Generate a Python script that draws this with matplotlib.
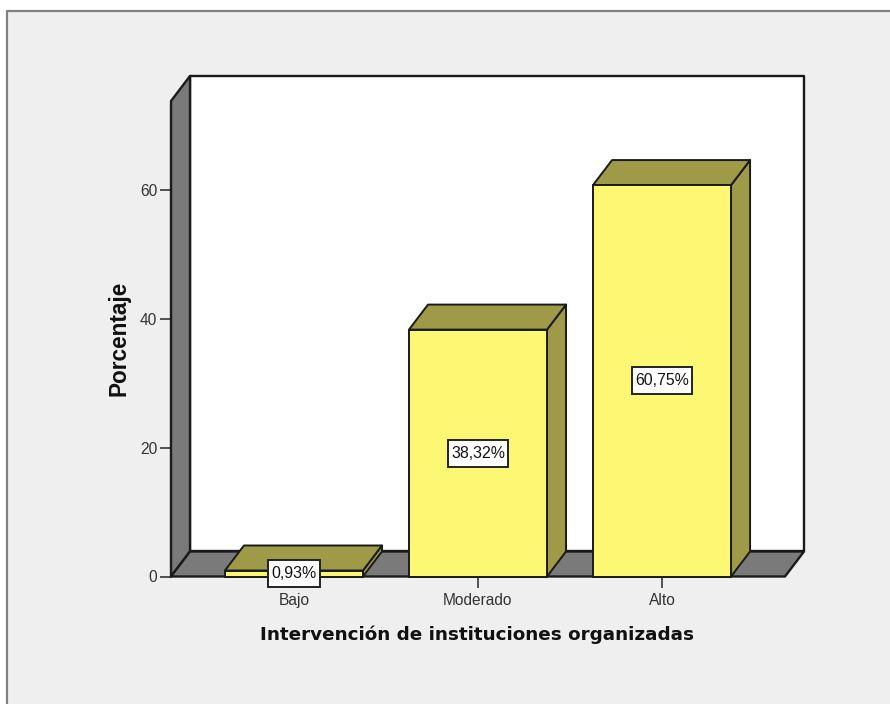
import matplotlib
matplotlib.use('Agg')
import matplotlib.pyplot as plt
from matplotlib.patches import Polygon, Rectangle
from matplotlib.path import Path

categories = ['Bajo', 'Moderado', 'Alto']
porcentaje = [0.93, 38.32, 60.75]
etiquetas = ['0,93%', '38,32%', '60,75%']
y_ticks = [0, 20, 40, 60]

W, H = 890, 704
BG = '#EFEFEF'
YELLOW = '#FCF873'
OLIVE = '#9E9A48'
GRAY = '#7A7A7A'
EDGE = '#1A1A1A'

fig = plt.figure(figsize=(W / 100, H / 100), dpi=100, facecolor='white')
fig.patches.append(Rectangle((7 / W, 0), 1, 1 - 11 / H, transform=fig.transFigure,
                             facecolor=BG, edgecolor='none', zorder=-2))
fig.add_artist(plt.Line2D([7 / W, 7 / W, 1], [0, 1 - 11 / H, 1 - 11 / H],
                          color='#808080', lw=1.6))

# axes is the front plane of the 3d box
ax = fig.add_axes([171 / W, 1 - 576.5 / H, 614 / W, 475.5 / H])
ax.patch.set_visible(False)
ax.set_xlim(-0.668, 2.668)
ax.set_ylim(0, 73.8)
for s in ax.spines.values():
    s.set_visible(False)

dx = 19 / 184
dy = 25 / 6.44
x0, x1 = ax.get_xlim()
y1 = ax.get_ylim()[1]


def poly(pts, fc, z, lw=1.7):
    ax.add_patch(Polygon(pts, closed=True, facecolor=fc, edgecolor=EDGE, lw=lw,
                         joinstyle='round', clip_on=False, zorder=z))


def label_box(x, y, w, h, mutation_size):
    # label boxes are taller than a square pad would give
    px, py = 3, 6
    return Path([(x - px, y - py), (x + w + px, y - py), (x + w + px, y + h + py),
                 (x - px, y + h + py), (x - px, y - py)], closed=True)


# back wall, side wall, floor
poly([(x0 + dx, dy), (x1 + dx, dy), (x1 + dx, y1 + dy), (x0 + dx, y1 + dy)], 'white', 1)
poly([(x0, 0), (x0 + dx, dy), (x0 + dx, y1 + dy), (x0, y1)], GRAY, 2)
poly([(x0, 0), (x1, 0), (x1 + dx, dy), (x0 + dx, dy)], GRAY, 2)

bw = 0.75
for i, v in enumerate(porcentaje):
    l, r = i - bw / 2, i + bw / 2
    ax.bar(i, v, width=bw, color=YELLOW, edgecolor=EDGE, lw=1.4, zorder=4, clip_on=False)
    poly([(r, 0), (r + dx, dy), (r + dx, v + dy), (r, v)], OLIVE, 3, 1.4)
    poly([(l, v), (r, v), (r + dx, v + dy), (l + dx, v + dy)], OLIVE, 3, 1.4)
    ax.text(i, max(v / 2, 0.47), etiquetas[i], ha='center', va='center', fontsize=11.4,
            family='Liberation Sans', color='#111111', zorder=6,
            bbox=dict(boxstyle=label_box, facecolor='white', edgecolor='#222222', lw=1.4))

ax.set_xticks(range(len(categories)))
ax.set_xticklabels(categories, family='Liberation Sans', fontsize=11.2, color='#333333')
ax.set_yticks(y_ticks)
ax.set_yticklabels(y_ticks, family='Liberation Sans', fontsize=11.2, color='#333333')
ax.tick_params(axis='both', length=8, width=1.3, color='#444444', pad=2)
ax.tick_params(axis='x', pad=4)

fig.text(477 / W, 1 - 635 / H, 'Intervención de instituciones organizadas', ha='center', va='center',
         family='DejaVu Sans', fontweight='bold', fontsize=13.25, color='#111111')
fig.text(119 / W, 1 - 338 / H, 'Porcentaje', ha='center', va='center', rotation=90,
         family='Liberation Sans', fontweight='bold', fontsize=16.3, color='#111111')

fig.savefig('out.png', dpi=100, facecolor=fig.get_facecolor())
